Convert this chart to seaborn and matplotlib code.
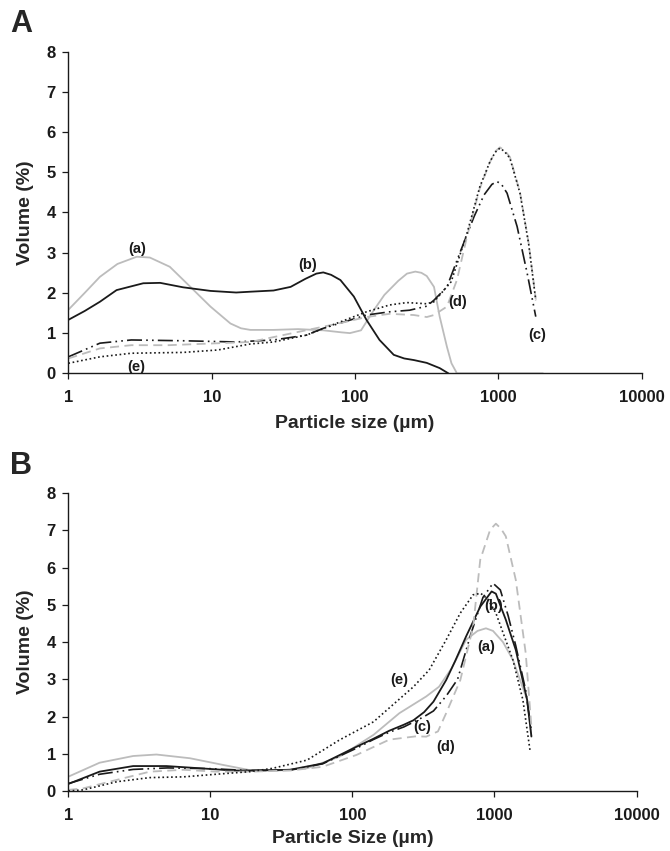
import matplotlib
matplotlib.use("Agg")
import matplotlib.pyplot as plt
import seaborn as sns

# ---- panel A data (particle size in um, volume %) ----
a_A_x = [1, 1.3, 1.66, 2.2, 3.0, 3.7, 5.1, 7.1, 9.8, 13.5, 16, 18.6, 27, 40, 60, 80, 92, 110, 135, 160, 200, 230, 263, 290, 316, 355, 389, 437, 470, 513, 2042]
a_A_y = [1.58, 2.00, 2.40, 2.72, 2.90, 2.88, 2.65, 2.15, 1.66, 1.24, 1.12, 1.08, 1.08, 1.10, 1.07, 1.02, 1.00, 1.07, 1.57, 1.95, 2.30, 2.48, 2.53, 2.50, 2.42, 2.15, 1.41, 0.66, 0.25, 0.0, 0.0]

b_A_x = [1, 1.3, 1.66, 2.17, 3.33, 4.37, 6.3, 9.8, 14.8, 18.6, 27, 35.5, 45, 53.7, 60, 68, 79, 98, 120, 148, 186, 220, 257, 316, 389, 447]
b_A_y = [1.33, 1.55, 1.78, 2.07, 2.24, 2.25, 2.14, 2.05, 2.01, 2.03, 2.06, 2.15, 2.35, 2.48, 2.51, 2.45, 2.32, 1.91, 1.33, 0.83, 0.46, 0.37, 0.33, 0.26, 0.13, 0.0]

c_A_x = [1, 1.66, 2.75, 6.3, 14.8, 18.6, 27, 45.7, 60, 79, 120, 174, 240, 316, 355, 437, 537, 676, 794, 900, 977, 1050, 1148, 1349, 1585, 1820]
c_A_y = [0.41, 0.75, 0.83, 0.81, 0.78, 0.80, 0.83, 0.95, 1.12, 1.25, 1.45, 1.53, 1.57, 1.67, 1.82, 2.15, 2.99, 3.90, 4.44, 4.70, 4.77, 4.70, 4.48, 3.65, 2.49, 1.41]

d_A_x = [1, 1.66, 2.75, 5, 18.6, 79, 120, 174, 257, 316, 355, 437, 513, 603, 741, 871, 950, 1023, 1100, 1202, 1413, 1622, 1820]
d_A_y = [0.37, 0.62, 0.70, 0.70, 0.78, 1.25, 1.40, 1.48, 1.45, 1.40, 1.45, 1.66, 2.32, 3.40, 4.60, 5.25, 5.52, 5.62, 5.55, 5.38, 4.50, 3.25, 1.85]

e_A_x = [1, 1.66, 2.75, 6.3, 11, 18.6, 27, 45.7, 79, 120, 174, 229, 316, 355, 468, 603, 741, 871, 950, 1023, 1100, 1202, 1413, 1622, 1820]
e_A_y = [0.25, 0.41, 0.50, 0.52, 0.58, 0.73, 0.78, 0.95, 1.28, 1.53, 1.70, 1.76, 1.73, 1.78, 2.28, 3.48, 4.64, 5.26, 5.50, 5.60, 5.52, 5.35, 4.48, 3.23, 1.82]

# ---- panel B data ----
a_B_x = [1, 1.66, 2.86, 4.17, 7.18, 12.3, 19, 30, 47.9, 81, 141, 214, 331, 407, 500, 631, 760, 871, 977, 1148, 1349, 1698, 1820]
a_B_y = [0.385, 0.76, 0.94, 0.98, 0.88, 0.70, 0.56, 0.55, 0.61, 0.92, 1.51, 2.09, 2.54, 2.80, 3.30, 4.06, 4.30, 4.37, 4.30, 4.00, 3.52, 2.45, 1.45]

b_B_x = [1, 1.66, 2.86, 4.9, 8.5, 14.5, 19, 36.3, 61.7, 107, 140, 182, 230, 269, 320, 372, 457, 530, 631, 794, 955, 1023, 1202, 1413, 1698, 1820]
b_B_y = [0.19, 0.52, 0.67, 0.67, 0.61, 0.55, 0.55, 0.57, 0.74, 1.19, 1.40, 1.62, 1.78, 1.90, 2.12, 2.40, 2.98, 3.50, 4.15, 4.95, 5.36, 5.30, 4.60, 3.79, 2.45, 1.47]

c_B_x = [1, 1.66, 2.86, 5, 10, 19, 36.3, 61.7, 107, 140, 182, 230, 269, 320, 372, 457, 550, 680, 830, 977, 1100, 1250, 1413, 1660, 1820]
c_B_y = [0.20, 0.45, 0.58, 0.62, 0.60, 0.55, 0.56, 0.73, 1.15, 1.38, 1.58, 1.72, 1.85, 2.00, 2.15, 2.55, 3.00, 4.20, 5.20, 5.58, 5.40, 4.70, 3.90, 2.70, 1.60]

d_B_x = [1, 1.27, 2.2, 3.75, 6.46, 11, 19, 36.3, 61.7, 107, 182, 282, 331, 400, 457, 575, 708, 794, 933, 1023, 1110, 1202, 1413, 1660, 1820]
d_B_y = [0.03, 0.07, 0.30, 0.52, 0.57, 0.52, 0.52, 0.55, 0.65, 0.97, 1.38, 1.47, 1.46, 1.60, 2.09, 2.98, 4.42, 6.21, 7.02, 7.18, 7.05, 6.84, 5.67, 3.70, 1.73]

e_B_x = [1, 1.27, 2.2, 3.75, 6.46, 11, 19, 27.5, 47.9, 81, 141, 155, 269, 347, 457, 575, 708, 800, 900, 1023, 1349, 1585, 1778]
e_B_y = [0.0, 0.03, 0.25, 0.36, 0.38, 0.45, 0.52, 0.61, 0.83, 1.37, 1.86, 2.00, 2.80, 3.25, 4.06, 4.78, 5.27, 5.31, 5.15, 4.78, 3.52, 2.45, 1.10]

x_ticks = [1, 10, 100, 1000, 10000]
y_ticks = [0, 1, 2, 3, 4, 5, 6, 7, 8]

labels_A = [("(a)", 3.0, 3.1), ("(b)", 47, 2.69), ("(c)", 1860, 0.95), ("(d)", 520, 1.77), ("(e)", 3.0, 0.16)]
labels_B = [("(a)", 870, 3.88), ("(b)", 980, 4.97), ("(c)", 310, 1.73), ("(d)", 450, 1.19), ("(e)", 214, 2.98)]

GRAY = "#bcbcbc"
BLACK = "#1a1a1a"
styles = {
    "a": dict(color=GRAY, linestyle="-", linewidth=1.3),
    "b": dict(color=BLACK, linestyle="-", linewidth=1.3),
    "c": dict(color=BLACK, linestyle=(0, (9, 2.5, 1, 2.5, 1, 2.5)), linewidth=1.2),
    "d": dict(color=GRAY, linestyle=(0, (5, 3)), linewidth=1.3),
    "e": dict(color=BLACK, linestyle=(0, (1, 1.6)), linewidth=1.2),
}

sns.set_style("ticks")
plt.rcParams["font.family"] = ["Liberation Sans", "DejaVu Sans"]
plt.rcParams["font.weight"] = "bold"

fig = plt.figure(figsize=(6.7, 8.51), dpi=100)
ax_A = fig.add_axes([0.102, 0.5613, 0.856, 0.378])
ax_B = fig.add_axes([0.102, 0.0705, 0.848, 0.350])


def draw_panel(ax, series, labels, xlabel, xpad):
    for key, (xs, ys) in series.items():
        sns.lineplot(x=xs, y=ys, ax=ax, **styles[key])
    ax.set_xscale("log")
    ax.set_xlim(1, 10000)
    ax.set_ylim(0, 8)
    ax.set_xticks(x_ticks)
    ax.set_xticklabels([str(t) for t in x_ticks])
    ax.minorticks_off()
    ax.set_yticks(y_ticks)
    ax.tick_params(axis="both", direction="out", length=4, width=0.9,
                   labelsize=12, pad=5, colors=BLACK)
    ax.tick_params(axis="x", pad=8)
    for lab in ax.get_xticklabels() + ax.get_yticklabels():
        lab.set_fontweight("bold")
    for s in ["top", "right"]:
        ax.spines[s].set_visible(False)
    for s in ["left", "bottom"]:
        ax.spines[s].set_linewidth(1.0)
        ax.spines[s].set_color(BLACK)
    ax.set_xlabel(xlabel, fontsize=14, fontweight="bold", labelpad=xpad)
    ax.set_ylabel("Volume (%)", fontsize=14, fontweight="bold", labelpad=9)
    for txt, x, y in labels:
        ax.text(x, y, txt, fontsize=10.5, fontweight="bold", ha="center", va="center", color=BLACK)


draw_panel(ax_A, {"a": (a_A_x, a_A_y), "b": (b_A_x, b_A_y), "c": (c_A_x, c_A_y),
                  "d": (d_A_x, d_A_y), "e": (e_A_x, e_A_y)},
           labels_A, "Particle size (\u00b5m)", 7)
draw_panel(ax_B, {"a": (a_B_x, a_B_y), "b": (b_B_x, b_B_y), "c": (c_B_x, c_B_y),
                  "d": (d_B_x, d_B_y), "e": (e_B_x, e_B_y)},
           labels_B, "Particle Size (\u00b5m)", 5)

fig.text(0.015, 0.972, "A", fontsize=22, fontweight="bold", va="center", ha="left")
fig.text(0.015, 0.452, "B", fontsize=22, fontweight="bold", va="center", ha="left")

fig.savefig("out.png", dpi=100)
